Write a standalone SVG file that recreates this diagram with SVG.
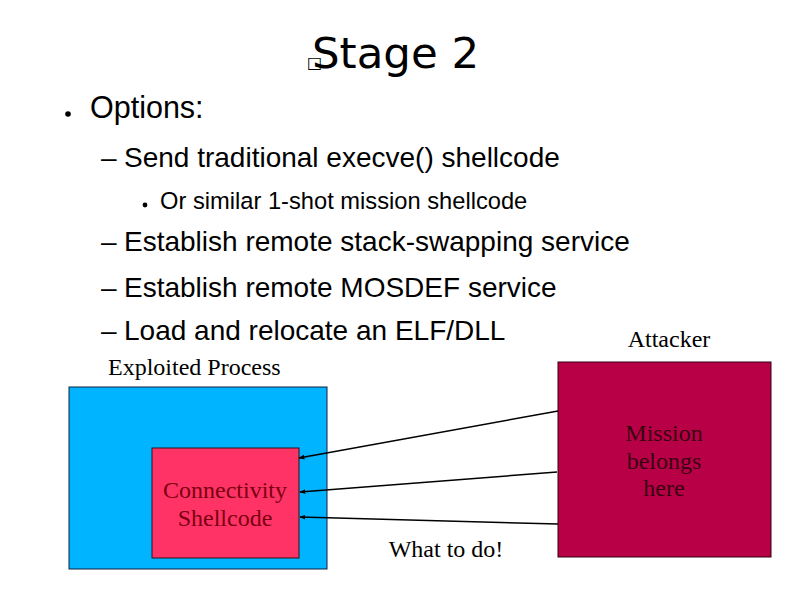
<svg xmlns="http://www.w3.org/2000/svg" width="794" height="595" viewBox="0 0 794 595">
<defs>
<marker id="ah" viewBox="0 0 10 10" refX="9" refY="5" markerWidth="6" markerHeight="6" orient="auto" markerUnits="userSpaceOnUse">
<path d="M0,1 L10,5 L0,9 z" fill="#000"/>
</marker>
<style>
.b{font-family:"Liberation Sans",Arial,sans-serif;fill:#000}
.s{font-family:"Liberation Serif","Times New Roman",serif;font-size:24px}
.c{stroke:#000;stroke-width:1.5;fill:none;marker-end:url(#ah)}
</style>
</defs>
<rect width="794" height="595" fill="#fff"/>
<g id="title">
<text x="307" y="68" font-family="DejaVu Sans,sans-serif" font-size="16">□</text>
<text x="312" y="68" font-family="DejaVu Sans,Verdana,sans-serif" font-size="43.5">Stage 2</text>
</g>
<g id="bullets">
<circle cx="68" cy="114" r="2.8" fill="#000"/>
<text class="b" x="90" y="118" font-size="30.5">Options:</text>
<text class="b" x="101" y="167" font-size="28">–</text>
<text class="b" x="124" y="167" font-size="28">Send traditional execve() shellcode</text>
<circle cx="145" cy="205" r="2.4" fill="#000"/>
<text class="b" x="160" y="209" font-size="23.7">Or similar 1-shot mission shellcode</text>
<text class="b" x="101" y="251" font-size="28">–</text>
<text class="b" x="124" y="251" font-size="28">Establish remote stack-swapping service</text>
<text class="b" x="101" y="297" font-size="28">–</text>
<text class="b" x="124" y="297" font-size="28">Establish remote MOSDEF service</text>
<text class="b" x="101" y="340" font-size="28">–</text>
<text class="b" x="124" y="340" font-size="28">Load and relocate an ELF/DLL</text>
</g>
<g id="exploited-process">
<text class="s" x="108" y="375">Exploited Process</text>
<rect x="69" y="387" width="258" height="182" fill="#00b4ff" stroke="#102040" stroke-width="1"/>
</g>
<g id="connectivity-shellcode">
<rect x="152" y="448" width="147" height="110" fill="#ff3366" stroke="#301018" stroke-width="1"/>
<text class="s" x="225" y="498" text-anchor="middle" fill="#7a0010">Connectivity</text>
<text class="s" x="225" y="526" text-anchor="middle" fill="#7a0010">Shellcode</text>
</g>
<g id="attacker">
<text class="s" x="669" y="347" text-anchor="middle">Attacker</text>
<rect x="558" y="362" width="213" height="195" fill="#b80046" stroke="#300010" stroke-width="1"/>
<text class="s" x="664" y="441" text-anchor="middle" fill="#3a0010">Mission</text>
<text class="s" x="664" y="469" text-anchor="middle" fill="#3a0010">belongs</text>
<text class="s" x="664" y="496" text-anchor="middle" fill="#3a0010">here</text>
</g>
<g id="connectors">
<line class="c" x1="558" y1="411" x2="299" y2="458"/>
<line class="c" x1="557" y1="472" x2="300" y2="492"/>
<line class="c" x1="558" y1="524" x2="300" y2="517"/>
<text class="s" x="446" y="557" text-anchor="middle">What to do!</text>
</g>
</svg>
